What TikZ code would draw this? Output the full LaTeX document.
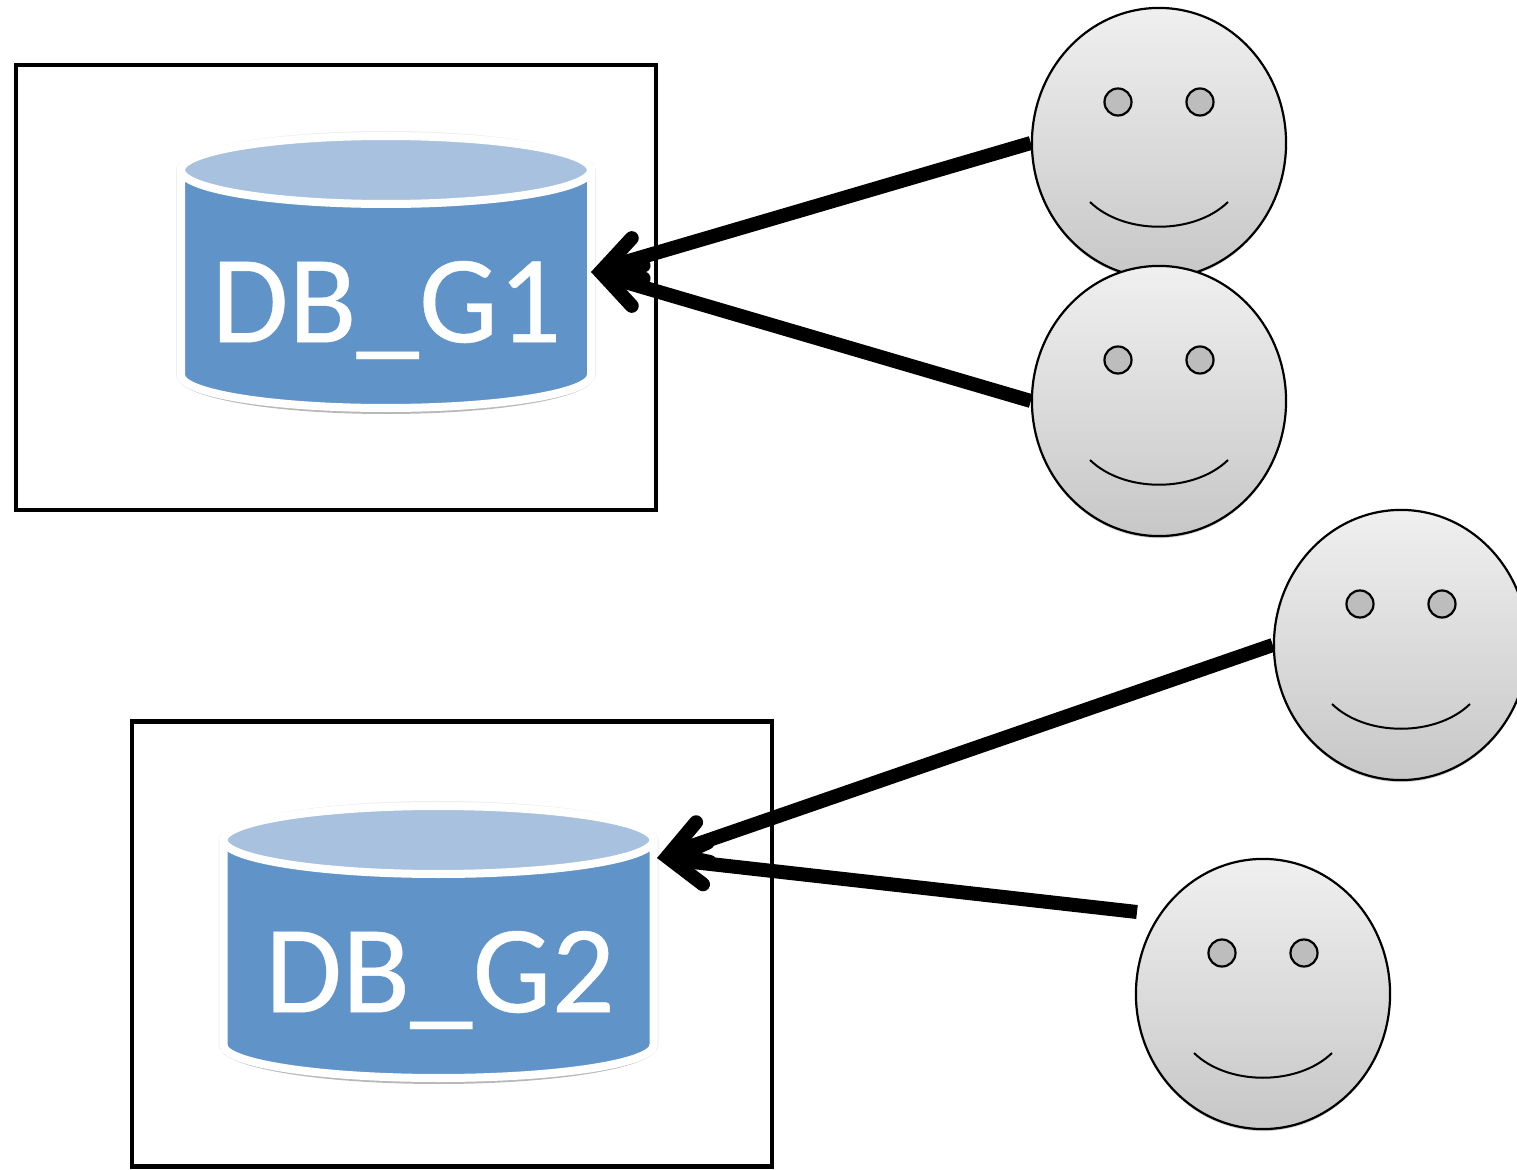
\documentclass[tikz,border=0pt]{standalone}
\usepackage{fontspec}
\setmainfont{Carlito}
\usetikzlibrary{arrows.meta,backgrounds,shadows,shapes.geometric}

\definecolor{dbbody}{HTML}{6094C9}
\definecolor{dbtop}{HTML}{A7C1DF}

\begin{document}
\begin{tikzpicture}[x=.01cm,y=-.01cm,semithick]
  \tikzstyle{hostbox}=[draw,rectangle,line width=.045cm,inner sep=0,outer sep=0,
    minimum width=6.4cm,minimum height=4.45cm]
  \tikzstyle{dbline}=[draw=white,line width=.08cm]
  \tikzstyle{dbname}=[text=white,font=\fontsize{35.6}{36}\selectfont\addfontfeature{FakeBold=.3}]
  \tikzstyle{face}=[draw,ellipse,line width=.022cm,inner sep=0,top color=black!6,
    bottom color=black!22,minimum width=2.54cm,minimum height=2.7cm,
    drop shadow={shadow xshift=0cm,shadow yshift=-.02cm,opacity=.2,fill=black}]
  \tikzstyle{eye}=[draw,circle,line width=.022cm,inner sep=0,fill=black!26,
    minimum size=.27cm]
  \tikzstyle{link}=[-{Straight Barb[line cap=round,line join=miter,length=.35cm,width=.42cm]},
    line width=.14cm]

  \useasboundingbox (0,0) rectangle (1517,1170);

  \coordinate (g1) at (386,272);
  \coordinate (g2) at (438.5,942);

  \node[dbname] (g1name) at (386.5,310) {DB\_G1};
  \node[dbname] (g2name) at (440,980) {DB\_G2};

  \begin{scope}[on background layer]
    \node[hostbox] (h1) at (336,287.5) {};
    \node[hostbox] (h2) at (452,944) {};
    \foreach \g/\r in {g1/205,g2/215} {
      \begin{scope}[shift={(\g)}]
        \fill[black!7] (0,-102) ellipse[x radius=\r+5,y radius=39];
        \fill[black!7] (-\r-5,-102) -- (-\r-5,103) arc[start angle=180,end angle=0,x radius=\r+5,y radius=38]
          -- (\r+5,-102) -- cycle;
        \fill[black!28] (-\r-3,105) arc[start angle=180,end angle=0,x radius=\r+3,y radius=37]
          -- cycle;
        \path[dbline,fill=dbbody] (-\r,-102) -- (-\r,103) arc[start angle=180,end angle=0,x radius=\r,y radius=33]
          -- (\r,-102) -- cycle;
        \path[dbline,fill=dbtop] (0,-102) ellipse[x radius=\r,y radius=34];
      \end{scope}
    }
  \end{scope}

  \node[face] (u1) at (1159,143) {};
  \node[face] (u2) at (1159,401) {};
  \node[face] (u3) at (1401,645) {};
  \node[face] (u4) at (1263,994) {};

  \foreach \u in {u1,u2,u3,u4} {
    \node[eye] (\u l) at ([shift={(-41,-41)}]\u.center) {};
    \node[eye] (\u r) at ([shift={(41,-41)}]\u.center) {};
    \draw[line width=.02cm] ([shift={(-69,59)}]\u.center)
      .. controls ([shift={(-35,92)}]\u.center) and ([shift={(35,92)}]\u.center)
      .. ([shift={(69,59)}]\u.center);
  }

  \coordinate (g1tip) at (591,272);
  \coordinate (g2tip) at (657,858);
  \coordinate (u4end) at (1137,912);

  \begin{scope}[on background layer]
    \path[link]
    (u1.west) edge (g1tip)
    (u2.west) edge (g1tip)
    (u3.west) edge (g2tip)
    (u4end) edge (g2tip)
    ;
  \end{scope}
\end{tikzpicture}
\end{document}
